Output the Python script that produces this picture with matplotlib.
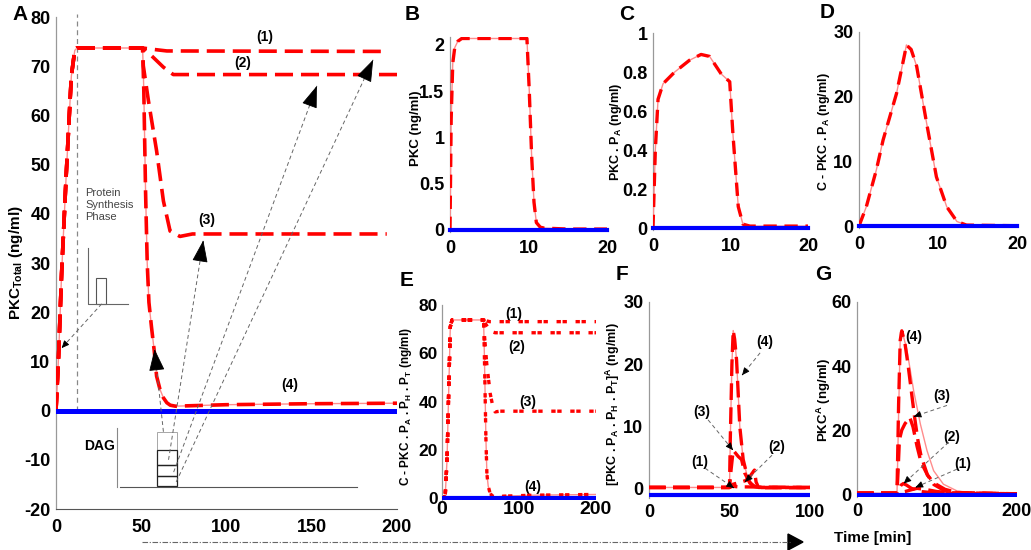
import numpy as np
import matplotlib
matplotlib.use('Agg')
import matplotlib.pyplot as plt
from matplotlib.ticker import FuncFormatter
from matplotlib.lines import Line2D
from matplotlib.patches import Rectangle, Polygon

plt.rcParams['font.family'] = ['Liberation Sans Narrow', 'Liberation Sans', 'DejaVu Sans']
plt.rcParams['font.weight'] = 'bold'
plt.rcParams['mathtext.fontset'] = 'custom'
plt.rcParams['mathtext.rm'] = 'Liberation Sans:bold'
plt.rcParams['mathtext.bf'] = 'Liberation Sans:bold'

W, H = 1031, 550

# ---------------- data ----------------
# Panel A: total PKC, shared rise + plateau, then 4 cases
A_rise_t = [0, 1.5, 3.3, 6, 9, 11, 12.3, 50.8]
A_rise_y = [0, 11, 28, 48, 68, 73.2, 73.7, 73.7]
A1_t = [55, 60, 65, 195]
A1_y = [73.5, 73.3, 73.1, 73.0]
A2_t = [54, 57, 63, 68.8, 75, 200]
A2_y = [72.8, 71.8, 69.8, 68.3, 68.3, 68.3]
A3_t = [51.2, 54.2, 59, 63, 66.9, 72.7, 80, 194]
A3_y = [70.1, 63, 52.8, 42.6, 36.5, 35.4, 35.9, 35.9]
A4_t = [51.5, 52.5, 53.5, 54.5, 56, 57.5, 59, 61, 63, 65, 67, 70, 80, 100, 150, 200]
A4_y = [65, 45, 30, 22, 17, 12.5, 7, 4.3, 2.6, 1.6, 1.1, 0.9, 1.0, 1.2, 1.4, 1.5]

# Panel B: PKC
B_t = [0, 0.15, 0.35, 0.6, 1.0, 1.5, 2, 9.8, 10.1, 10.4, 10.7, 11.0, 11.5, 12, 15, 20]
B_y = [0, 1.2, 1.8, 1.97, 2.04, 2.07, 2.07, 2.07, 1.5, 0.8, 0.3, 0.08, 0.03, 0.02, 0.01, 0.01]
# Panel C: PKC.PA
C_t = [0, 0.3, 0.65, 1.3, 2.8, 4.7, 6.2, 7.3, 8.8, 9.9, 10.3, 11, 11.6, 12.5, 20]
C_y = [0, 0.4, 0.66, 0.74, 0.80, 0.86, 0.89, 0.88, 0.79, 0.75, 0.49, 0.11, 0.02, 0.01, 0.01]
# Panel D: C-PKC.PA
D_t = [0, 0.93, 2.2, 3.05, 4.75, 5.8, 6.0, 6.6, 7.3, 8.56, 9.8, 11.1, 12.4, 13.6, 20]
D_y = [0, 3, 8.7, 13.3, 20.5, 26.7, 28, 27.3, 24.7, 15.9, 7.6, 3, 0.7, 0.15, 0.05]

# Panel E: C-PKC.PA.PH.PT
E_rise_t = [0, 3, 4.3, 6.5, 8.6, 10.8, 13, 54]
E_rise_y = [0, 0.3, 1.8, 15.6, 43, 71, 73.8, 73.8]
E1_t = [58, 62, 200]
E1_y = [73.4, 73.1, 73.1]
E2_t = [56, 60, 62.6, 66, 69, 200]
E2_y = [72.5, 70.5, 69.6, 68.8, 68.5, 68.5]
E3_t = [55, 58, 62.6, 66, 69, 75, 200]
E3_y = [68, 56, 43.3, 38, 35.7, 36, 36]
E4_t = [55, 56, 57, 58.3, 60, 62.6, 66, 69, 80, 120, 200]
E4_y = [60, 43, 25, 10, 5, 1.8, 0.8, 0.4, 0.8, 1.2, 1.5]

# Panel F: [PKC.PA.PH.PT]^A
F1_t = [0, 50, 52, 55, 100]
F1_y = [0.1, 0.1, 0.3, 0.2, 0.1]
F2_t = [0, 50, 52, 56, 60, 63, 65.5, 66.5, 68, 100]
F2_y = [0.1, 0.1, 0.6, 0.9, 1.2, 2.0, 2.9, 1.0, 0.1, 0.1]
F3_t = [0, 50, 51, 52.3, 55.4, 57.5, 59.5, 62.7, 66.8, 100]
F3_y = [0.1, 0.1, 3, 6.1, 5.1, 4.6, 2.4, 0.8, 0.1, 0.1]
F4_t = [0, 50, 50.5, 51.5, 52.3, 53.2, 54.4, 56.4, 58.5, 61.6, 64.7, 68.9, 100]
F4_y = [0.1, 0.1, 8, 20, 25.4, 24, 20.6, 9.9, 4.6, 1.3, 0.3, 0.05, 0.05]
F_blue = -1.1

# Panel G: PKC^A
G_ref_t = [0, 50, 52, 54.2, 56.2, 62.5, 70.8, 79.2, 87.5, 95.8, 108, 125, 146, 200]
G_ref_y = [0.3, 0.3, 25, 50.6, 51.1, 44.9, 32.3, 21.9, 13.6, 7.3, 3.1, 1, 0.2, 0.1]
G4_t = [0, 50, 52, 54, 56, 60, 64, 68, 72, 76, 80, 88, 96, 110, 130, 200]
G4_y = [0.3, 0.3, 28, 48, 51, 47, 40, 32, 24, 17, 12, 6, 3, 1, 0.3, 0.1]
G3_t = [0, 50, 51.5, 53, 56, 60, 66, 70, 75, 80, 88, 96, 110, 125, 200]
G3_y = [0.3, 0.3, 8, 17, 20, 22, 24, 21, 15, 10, 6, 3.5, 1.5, 0.5, 0.1]
G2_t = [0, 50, 52, 55, 58, 62, 68, 80, 100, 200]
G2_y = [0.3, 0.3, 1.5, 2.8, 3.3, 2.8, 1.8, 0.8, 0.3, 0.1]
G1_t = [0, 50, 60, 70, 75, 85, 100, 120, 200]
G1_y = [0.3, 0.3, 0.8, 1.5, 1.8, 1.5, 0.8, 0.4, 0.1]

RED = '#ff0000'
PINK = '#ff8c8c'
BLUE = '#0000ff'
LONG = (0, (5.0, 2.2))
SHORT = (0, (1.3, 0.5, 1.3, 2.6))
LAB = dict(family='Liberation Sans', fontweight='bold')


def make_ax(left, right, top, bottom):
    return fig.add_axes([left / W, 1 - bottom / H, (right - left) / W, (bottom - top) / H])


def style(ax, xpad, size=13, bottom=False, ysize=None):
    for s in ['top', 'right']:
        ax.spines[s].set_visible(False)
    ax.spines['bottom'].set_visible(bottom)
    ax.spines['bottom'].set_color('#555555')
    ax.spines['left'].set_color('#999999')
    ax.spines['left'].set_linewidth(0.9)
    ax.tick_params(length=0, labelsize=size)
    ax.tick_params(axis='x', pad=xpad)
    ax.tick_params(axis='y', pad=4, labelsize=ysize or size)
    ax.yaxis.set_major_formatter(FuncFormatter(lambda v, p: '%g' % v))
    ax.set_facecolor('none')


def ylab(ax, text, size, center_px, ax_left, ax_width, yfrac=0.5):
    ax.set_ylabel(text, fontsize=size, **LAB)
    # label coords refer to the right edge of the rotated text
    ax.yaxis.set_label_coords((center_px + size * 0.5 - ax_left) / ax_width, yfrac)


def curve(ax, t, y, dash=LONG, lw=2.6, thin=False):
    if thin:
        ax.plot(t, y, color=PINK, lw=1.0, zorder=3)
    ax.plot(t, y, color=RED, lw=lw, ls=dash, zorder=4)


def dash_arrow(ax, start, tip, hl=0.5, hw=0.25, color='#666666'):
    ax.plot([start[0], tip[0]], [start[1], tip[1]], color=color, lw=0.7,
            ls=(0, (4, 3)), clip_on=False, zorder=6)
    back = (tip[0] - (tip[0] - start[0]) * 0.03, tip[1] - (tip[1] - start[1]) * 0.03)
    ax.annotate('', xy=tip, xytext=back, annotation_clip=False,
                arrowprops=dict(arrowstyle='-|>,head_length=%s,head_width=%s' % (hl, hw),
                                color='k', lw=0.6, shrinkA=0, shrinkB=0), zorder=7)


fig = plt.figure(figsize=(W / 100, H / 100), dpi=100)

# ---------------- panel A ----------------
axA = make_ax(56, 397, 17, 509)
axA.set_xlim(0, 200)
axA.set_ylim(-20, 80)
axA.set_xticks([0, 50, 100, 150, 200])
axA.set_yticks(range(-20, 81, 10))
style(axA, 7, 13, bottom=True)
axA.plot([0, 200], [0, 0], color=BLUE, lw=3.6, zorder=5)
axA.plot([12.3, 12.3], [0, 80.7], color='#888888', lw=0.9, ls=(0, (4, 3)), clip_on=False)
curve(axA, A_rise_t + A1_t, A_rise_y + A1_y)
curve(axA, A_rise_t + A2_t, A_rise_y + A2_y)
curve(axA, A_rise_t + A3_t, A_rise_y + A3_y)
curve(axA, A_rise_t + A4_t, A_rise_y + A4_y, thin=True)
for lab, (tx, ty) in zip(['(1)', '(2)', '(3)', '(4)'],
                         [(122.6, 75.9), (109.7, 70.6), (88.5, 38.7), (137, 5.2)]):
    axA.text(tx, ty, lab, fontsize=10, ha='center', va='center', **LAB)
ylab(axA, 'PKC$_{\\mathregular{Total}}$ (ng/ml)', 11, 20, 56, 341)

# protein synthesis inset
axA.text(17, 41.8, 'Protein\nSynthesis\nPhase', fontsize=8, color='#444444', weight='normal',
         va='center', ha='left', linespacing=1.25, family='Liberation Sans')
axA.plot([19, 19, 42.4], [33.1, 21.7, 21.7], color='#666666', lw=0.8)
axA.add_patch(Rectangle((23.3, 21.7), 6.0, 5.3, fill=False, ec='#555555', lw=0.8))
dash_arrow(axA, (26.8, 21.7), (3.3, 12.7), hl=0.45, hw=0.2)

# DAG inset
axA.plot([36, 36], [-3.6, -15.6], color='#888888', lw=0.8)
axA.plot([37.5, 176.3], [-15.6, -15.6], color='#555555', lw=0.8)
axA.text(25.8, -7.1, 'DAG', fontsize=10, ha='center', va='center', **LAB)
axA.add_patch(Rectangle((59, -8), 11.8, 3.7, fill=False, ec='#999999', lw=0.6))
for y0, y1 in [(-11, -8), (-13.2, -11), (-15.4, -13.2)]:
    axA.add_patch(Rectangle((59, y0), 11.8, y1 - y0, fill=False, ec='#222222', lw=0.9))
for s, tp in [((63, -4.3), (57.8, 12.5)), ((66, -10), (86.4, 34.6)),
              ((69, -12.5), (153, 66)), ((70.5, -14.5), (186, 71.3))]:
    dash_arrow(axA, s, tp, hl=1.4, hw=0.5)

# ---------------- panels B, C, D ----------------
axB = make_ax(450, 607, 37, 232)
axB.set_xlim(0, 20)
axB.set_ylim(-0.022, 2.086)
axB.set_yticks([0, 0.5, 1, 1.5, 2])
style(axB, 6)
axB.plot([0, 20], [0, 0], color=BLUE, lw=3.0, zorder=5, clip_on=False)
curve(axB, B_t, B_y, dash=(0, (4, 2.3)), lw=2.4, thin=True)
ylab(axB, 'PKC (ng/ml)', 9.5, 417, 450, 157, 0.53)

axC = make_ax(653, 808, 33, 230)
axC.set_xlim(0, 20)
axC.set_ylim(-0.01, 1.0)
axC.set_yticks([0, 0.2, 0.4, 0.6, 0.8, 1])
style(axC, 6)
axC.plot([0, 20], [0, 0], color=BLUE, lw=3.0, zorder=5, clip_on=False)
curve(axC, C_t, C_y, dash=(0, (4, 2.3)), lw=2.4, thin=True)
ylab(axC, 'PKC . P$_{\\mathregular{A}}$ (ng/ml)', 9, 619, 653, 155)

axD = make_ax(859, 1017, 32, 228)
axD.set_xlim(0, 20)
axD.set_ylim(-0.3, 30)
axD.set_yticks([0, 10, 20, 30])
style(axD, 6)
axD.plot([0, 20], [0, 0], color=BLUE, lw=3.0, zorder=5, clip_on=False)
curve(axD, D_t, D_y, dash=(0, (4, 2.3)), lw=2.4, thin=True)
ylab(axD, 'C - PKC . P$_{\\mathregular{A}}$ (ng/ml)', 9, 827, 859, 158, 0.49)

# ---------------- panel E ----------------
axE = make_ax(442, 596, 305, 500)
axE.set_xlim(0, 200)
axE.set_ylim(-0.8, 80)
axE.set_yticks([0, 20, 40, 60, 80])
axE.set_xticks([0, 100, 200])
style(axE, 1, 14, ysize=12.5)
axE.tick_params(axis='y', pad=3)
axE.plot([0, 200], [0, 0], color=BLUE, lw=3.0, zorder=5)
curve(axE, E_rise_t + E1_t, E_rise_y + E1_y, dash=SHORT, lw=2.4)
curve(axE, E_rise_t + E2_t, E_rise_y + E2_y, dash=SHORT, lw=2.4)
curve(axE, E_rise_t + E3_t, E_rise_y + E3_y, dash=SHORT, lw=2.4)
curve(axE, E_rise_t + E4_t, E_rise_y + E4_y, dash=SHORT, lw=2.4, thin=True)
for lab, (tx, ty) in zip(['(1)', '(2)', '(3)', '(4)'],
                         [(92.9, 76.1), (97, 62.5), (112, 39.8), (118, 4.6)]):
    axE.text(tx, ty, lab, fontsize=10, ha='center', va='center', **LAB)
ylab(axE, 'C - PKC . P$_{\\mathregular{A}}$ . P$_{\\mathregular{H}}$ . P$_{\\mathregular{T}}$ (ng/ml)',
     8.5, 410, 442, 154, 0.48)

# ---------------- panel F ----------------
axF = make_ax(649, 810, 302, 498)
axF.set_xlim(0, 100)
axF.set_ylim(-1.6, 30)
axF.set_yticks([0, 10, 20, 30])
axF.set_xticks([0, 50, 100])
style(axF, 4)
axF.plot([0, 100], [F_blue, F_blue], color=BLUE, lw=3.0, zorder=5)
curve(axF, F1_t, F1_y, lw=2.4)
curve(axF, F2_t, F2_y, lw=2.4)
curve(axF, F3_t, F3_y, lw=2.4)
curve(axF, F4_t, F4_y, lw=2.4, thin=True)
for lab, (tx, ty), s, tp in [('(4)', (72, 23.5), (69, 21.8), (57.8, 18.2)),
                             ('(3)', (33, 12.3), (36.7, 11), (52.2, 6.1)),
                             ('(2)', (79.5, 6.6), (76.4, 5.3), (59.6, 1.0)),
                             ('(1)', (31.7, 4.2), (34.8, 3.2), (52.8, 0.0))]:
    axF.text(tx, ty, lab, fontsize=10, ha='center', va='center', **LAB)
    dash_arrow(axF, s, tp, hl=0.45, hw=0.2)
ylab(axF, '[PKC . P$_{\\mathregular{A}}$ . P$_{\\mathregular{H}}$ . P$_{\\mathregular{T}}$]$^{\\mathregular{A}}$ (ng/ml)',
     9, 617, 649, 161, 0.48)

# ---------------- panel G ----------------
axG = make_ax(857, 1017, 302, 497)
axG.set_xlim(0, 200)
axG.set_ylim(-0.9, 60)
axG.set_yticks([0, 20, 40, 60])
axG.set_xticks([0, 100, 200])
style(axG, 4)
axG.plot([0, 200], [-0.2, -0.2], color=BLUE, lw=3.0, zorder=5)
axG.plot(G_ref_t, G_ref_y, color=PINK, lw=1.0, zorder=3)
curve(axG, G1_t, G1_y, lw=2.4)
curve(axG, G2_t, G2_y, lw=2.4)
curve(axG, G3_t, G3_y, lw=2.4)
curve(axG, G4_t, G4_y, lw=2.4)
axG.text(70.8, 49, '(4)', fontsize=10, ha='center', va='center', **LAB)
for lab, (tx, ty), s, tp in [('(3)', (106, 30.5), (112.5, 27.7), (70.8, 24.2)),
                             ('(2)', (118.8, 17.7), (114.6, 16.2), (58.3, 3.3)),
                             ('(1)', (132, 9.4), (125, 7.8), (73, 2.1))]:
    axG.text(tx, ty, lab, fontsize=10, ha='center', va='center', **LAB)
    dash_arrow(axG, s, tp, hl=0.45, hw=0.2)
ylab(axG, 'PKC$^{\\mathregular{A}}$ (ng/ml)', 9.5, 828, 857, 160)

# ---------------- panel letters and time arrow ----------------
for lab, (px, py) in zip('ABCDEFG', [(20, 15), (412, 15), (627, 15), (827, 13),
                                       (407, 281), (622, 275), (823, 275)]):
    fig.text(px / W, 1 - py / H, lab, fontsize=15, ha='center', va='center', **LAB)

yarr = 1 - 542 / H
fig.add_artist(Line2D([142 / W, 790 / W], [yarr, yarr], color='#666666', lw=0.8,
                      ls=(0, (5, 1.5, 1, 1.5))))
fig.add_artist(Polygon([[788 / W, yarr + 8 / H], [788 / W, yarr - 8 / H], [803 / W, yarr]],
                       closed=True, color='k', transform=fig.transFigure))
fig.text(873 / W, 1 - 538 / H, 'Time [min]', fontsize=11, ha='center', va='center', **LAB)

fig.savefig('out.png', dpi=100)
